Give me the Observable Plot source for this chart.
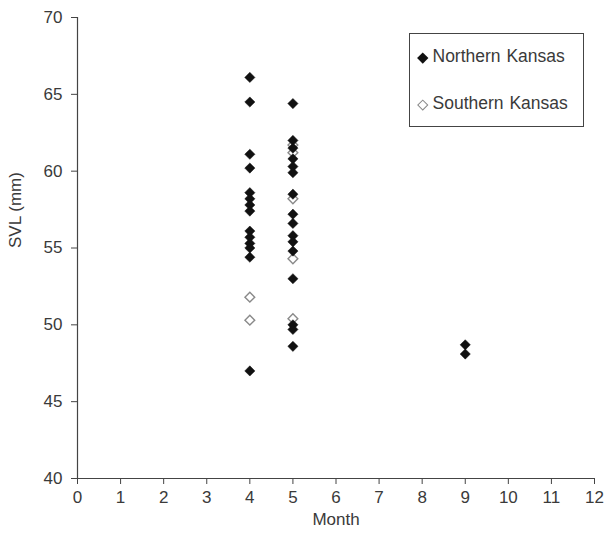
<!DOCTYPE html>
<html>
<head>
<meta charset="utf-8">
<script src="https://cdn.jsdelivr.net/npm/d3@7"></script>
<script src="https://cdn.jsdelivr.net/npm/@observablehq/plot@0.6"></script>
<style>
  html, body { margin: 0; padding: 0; background: #fff; }
  #wrap { position: relative; width: 605px; height: 533px; font-family: "Liberation Sans", Arial, sans-serif; color: #3a3a3a; }
  #legend { position: absolute; left: 409px; top: 33px; width: 173px; height: 92px; border: 1px solid #444; background: #fff; font-size: 17.5px; }
  .item { position: absolute; left: 9px; height: 20px; line-height: 20px; white-space: nowrap; word-spacing: 1px; }
  .mk { display: inline-block; width: 7.5px; height: 7.5px; transform: rotate(45deg); margin-right: 6px; vertical-align: 1px; box-sizing: border-box; }
  .filled { background: #111; }
  .open { background: #fff; border: 1.3px solid #888; }
</style>
</head>
<body>
<div id="wrap"></div>
<script>
// ---- data ----
const months = [4, 5, 9];
const northernApr = [66.1, 64.5, 61.1, 60.2, 58.6, 58.2, 57.8, 57.4, 56.1, 55.7, 55.3, 55.0, 54.4, 47.0];
const southernApr = [51.8, 50.3];
const northernMay = [64.4, 62.0, 61.5, 60.8, 60.3, 59.9, 58.5, 57.2, 56.6, 55.8, 55.4, 54.8, 53.0, 50.0, 49.7, 48.6];
const southernMay = [61.7, 61.2, 58.2, 54.3, 50.4];
const northernSep = [48.7, 48.1];
const xTicks = [0,1,2,3,4,5,6,7,8,9,10,11,12];
const yTicks = [40,45,50,55,60,65,70];
const seriesNames = ["Northern Kansas", "Southern Kansas"];

const rows = (vals, month, region) => vals.map(v => ({month, svl: v, region}));
const northern = [
  ...rows(northernApr, months[0], seriesNames[0]),
  ...rows(northernMay, months[1], seriesNames[0]),
  ...rows(northernSep, months[2], seriesNames[0])
];
const southern = [
  ...rows(southernApr, months[0], seriesNames[1]),
  ...rows(southernMay, months[1], seriesNames[1])
];

const txt = "#3a3a3a";
const chart = Plot.plot({
  width: 605,
  height: 533,
  marginLeft: 77,
  marginRight: 11,
  marginTop: 17,
  marginBottom: 55,
  style: { fontFamily: "'Liberation Sans', Arial, sans-serif", fontSize: "17px", color: txt, background: "#fff", overflow: "visible" },
  x: { domain: [0, 12] },
  y: { domain: [40, 70] },
  marks: [
    Plot.axisX({ ticks: xTicks, tickSize: 6, tickPadding: 6, label: null, stroke: "#444", fill: txt, fontSize: 17 }),
    Plot.axisY({ ticks: yTicks, tickSize: 6, tickPadding: 9, label: null, stroke: "#444", fill: txt, fontSize: 17 }),
    Plot.ruleX([0], { stroke: "#444", strokeWidth: 1.2 }),
    Plot.ruleY([40], { stroke: "#444", strokeWidth: 1.2 }),
    Plot.dot(southern, { x: "month", y: "svl", symbol: "diamond2", r: 4.4, fill: "#fff", stroke: "#8a8a8a", strokeWidth: 1.4 }),
    Plot.dot(northern, { x: "month", y: "svl", symbol: "diamond2", r: 4.6, fill: "#111", stroke: "#111", strokeWidth: 0.5 }),
    Plot.text(["Month"], { frameAnchor: "bottom", dy: 46, fontSize: 17, fill: txt }),
    Plot.text(["SVL (mm)"], { frameAnchor: "left", dx: -62, rotate: -90, fontSize: 17, fill: txt })
  ]
});
const wrap = document.getElementById("wrap");
wrap.appendChild(chart);

const legend = document.createElement("div");
legend.id = "legend";
legend.innerHTML =
  `<div class="item" style="top:12px"><span class="mk filled"></span>${seriesNames[0]}</div>` +
  `<div class="item" style="top:59px"><span class="mk open"></span>${seriesNames[1]}</div>`;
wrap.appendChild(legend);
</script>
</body>
</html>
